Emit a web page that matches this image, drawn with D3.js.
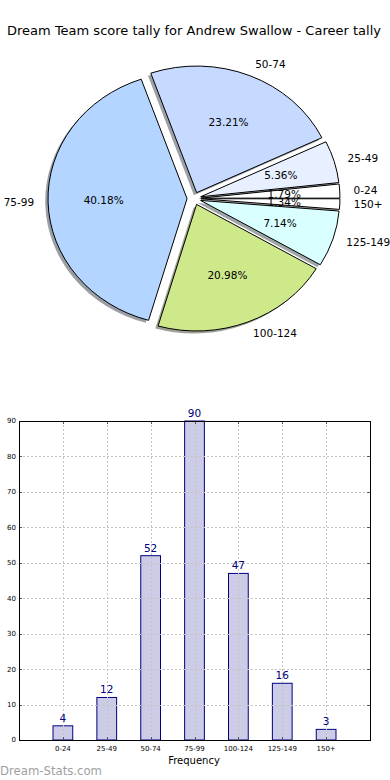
<!DOCTYPE html>
<html>
<head>
<meta charset="utf-8">
<script src="https://cdn.jsdelivr.net/npm/d3@7/dist/d3.min.js"></script>
<style>
  html, body { margin: 0; padding: 0; background: #fff; }
  svg { display: block; font-family: "DejaVu Sans", sans-serif; }
</style>
</head>
<body>
<svg id="chart" width="390" height="780"></svg>
<script>
// ---- data ----
const categories = ["0-24", "25-49", "50-74", "75-99", "100-124", "125-149", "150+"];
const counts = [4, 12, 52, 90, 47, 16, 3];
const sliceColors = ["#ffffff", "#e8f0ff", "#c6d9ff", "#b3d5ff", "#cde98a", "#d9ffff", "#ffffff"];
const yTicks = [0, 10, 20, 30, 40, 50, 60, 70, 80, 90];
const titleText = "Dream Team score tally for Andrew Swallow - Career tally";
const xLabelText = "Frequency";
const watermarkText = "Dream-Stats.com";

(function () {
const svg = d3.select("#chart");
const total = d3.sum(counts);

// ---- title ----
svg.append("text")
  .attr("x", 194).attr("y", 35)
  .attr("text-anchor", "middle")
  .attr("font-size", 13)
  .attr("fill", "#000")
  .text(titleText);

// ---- pie (elliptical, matplotlib style) ----
const cx = 194, cy = 198.5, rx = 139, ry = 126.6;
const explode = 0.05, labelDist = 1.1, pctDist = 0.6;

const pie = d3.pie().sort(null)
  .startAngle(Math.PI / 2)
  .endAngle(Math.PI / 2 - 2 * Math.PI);
const arcs = pie(counts);
const arcGen = d3.arc().innerRadius(0).outerRadius(1);

const pieG = svg.append("g");
// shadows
arcs.forEach((a, i) => {
  const mid = (a.startAngle + a.endAngle) / 2;
  const ox = Math.sin(mid) * explode * rx - 0.02 * rx;
  const oy = -Math.cos(mid) * explode * ry + 0.02 * ry;
  const c = d3.rgb(sliceColors[i]);
  pieG.append("path")
    .attr("d", arcGen(a))
    .attr("transform", `translate(${cx + ox},${cy + oy}) scale(${rx},${ry})`)
    .attr("fill", d3.rgb(c.r * 0.3, c.g * 0.3, c.b * 0.3))
    .attr("fill-opacity", 0.5)
    .attr("stroke", "none");
});
// wedges
arcs.forEach((a, i) => {
  const mid = (a.startAngle + a.endAngle) / 2;
  const ox = Math.sin(mid) * explode * rx;
  const oy = -Math.cos(mid) * explode * ry;
  pieG.append("path")
    .attr("d", arcGen(a))
    .attr("transform", `translate(${cx + ox},${cy + oy}) scale(${rx},${ry})`)
    .attr("fill", sliceColors[i])
    .attr("stroke", "#000")
    .attr("stroke-width", 1)
    .attr("vector-effect", "non-scaling-stroke")
    .attr("stroke-linejoin", "round");
});
// labels
arcs.forEach((a, i) => {
  const mid = (a.startAngle + a.endAngle) / 2;
  const sx = Math.sin(mid), sy = -Math.cos(mid);
  const lx = cx + (explode + labelDist) * rx * sx;
  const ly = cy + (explode + labelDist) * ry * sy;
  pieG.append("text")
    .attr("x", lx).attr("y", ly)
    .attr("dy", "0.35em")
    .attr("text-anchor", sx > 0 ? "start" : "end")
    .attr("font-size", 10.5)
    .attr("fill", "#000")
    .text(categories[i]);
  const px = cx + (explode + pctDist) * rx * sx;
  const py = cy + (explode + pctDist) * ry * sy;
  pieG.append("text")
    .attr("x", px).attr("y", py)
    .attr("dy", "0.35em")
    .attr("text-anchor", "middle")
    .attr("font-size", 10.5)
    .attr("fill", "#000")
    .text((counts[i] / total * 100).toFixed(2) + "%");
});

// ---- bar chart ----
const pLeft = 19, pRight = 370, pTop = 421, pBottom = 740;
const x = d3.scaleLinear().domain([-1, 7]).range([pLeft, pRight]);
const y = d3.scaleLinear().domain([0, 90]).range([pBottom, pTop]);
const barW = 0.45;
const barG = svg.append("g");

// bars
barG.selectAll("rect.bar").data(counts).enter().append("rect")
  .attr("class", "bar")
  .attr("x", (d, i) => x(i - barW / 2))
  .attr("width", (d, i) => x(i + barW / 2) - x(i - barW / 2))
  .attr("y", d => y(d))
  .attr("height", d => y(0) - y(d))
  .attr("fill", "#ccccE6")
  .attr("stroke", "#000080")
  .attr("stroke-width", 1);

// grid
const gridG = barG.append("g")
  .attr("stroke", "#c4c4c4")
  .attr("stroke-width", 1)
  .attr("stroke-dasharray", "2,2");
categories.forEach((c, i) => {
  gridG.append("line")
    .attr("x1", Math.round(x(i)) + 0.5).attr("x2", Math.round(x(i)) + 0.5)
    .attr("y1", pTop).attr("y2", pBottom);
});
yTicks.forEach(t => {
  gridG.append("line")
    .attr("x1", pLeft).attr("x2", pRight)
    .attr("y1", Math.round(y(t)) + 0.5).attr("y2", Math.round(y(t)) + 0.5);
});

// ticks (inside, all sides)
const tickG = barG.append("g").attr("stroke", "#555").attr("stroke-width", 1);
yTicks.forEach(t => {
  const yy = Math.round(y(t)) + 0.5;
  tickG.append("line").attr("x1", pLeft).attr("x2", pLeft + 3).attr("y1", yy).attr("y2", yy);
  tickG.append("line").attr("x1", pRight - 3).attr("x2", pRight).attr("y1", yy).attr("y2", yy);
});
categories.forEach((c, i) => {
  const xx = Math.round(x(i)) + 0.5;
  tickG.append("line").attr("x1", xx).attr("x2", xx).attr("y1", pBottom).attr("y2", pBottom - 3);
  tickG.append("line").attr("x1", xx).attr("x2", xx).attr("y1", pTop).attr("y2", pTop + 3);
});

// frame
barG.append("rect")
  .attr("x", pLeft + 0.5).attr("y", pTop + 0.5)
  .attr("width", pRight - pLeft).attr("height", pBottom - pTop)
  .attr("fill", "none").attr("stroke", "#000").attr("stroke-width", 1);

// y tick labels
yTicks.forEach(t => {
  barG.append("text")
    .attr("x", pLeft - 3).attr("y", y(t))
    .attr("dy", "0.35em")
    .attr("text-anchor", "end")
    .attr("font-size", 7)
    .attr("fill", "#000")
    .text(t);
});
// x tick labels
categories.forEach((c, i) => {
  barG.append("text")
    .attr("x", x(i)).attr("y", 751)
    .attr("text-anchor", "middle")
    .attr("font-size", 7)
    .attr("fill", "#000")
    .text(c);
});
// value labels
counts.forEach((d, i) => {
  barG.append("text")
    .attr("x", x(i)).attr("y", y(d) - 4)
    .attr("text-anchor", "middle")
    .attr("font-size", 10.5)
    .attr("fill", "#000080")
    .text(d);
});
// x label
svg.append("text")
  .attr("x", 194).attr("y", 764)
  .attr("text-anchor", "middle")
  .attr("font-size", 10)
  .attr("fill", "#000")
  .text(xLabelText);

// watermark
svg.append("text")
  .attr("x", 0).attr("y", 775)
  .attr("font-size", 12)
  .attr("fill", "#a0a0a0")
  .attr("textLength", 102)
  .attr("lengthAdjust", "spacingAndGlyphs")
  .text(watermarkText);
})();
</script>
</body>
</html>
